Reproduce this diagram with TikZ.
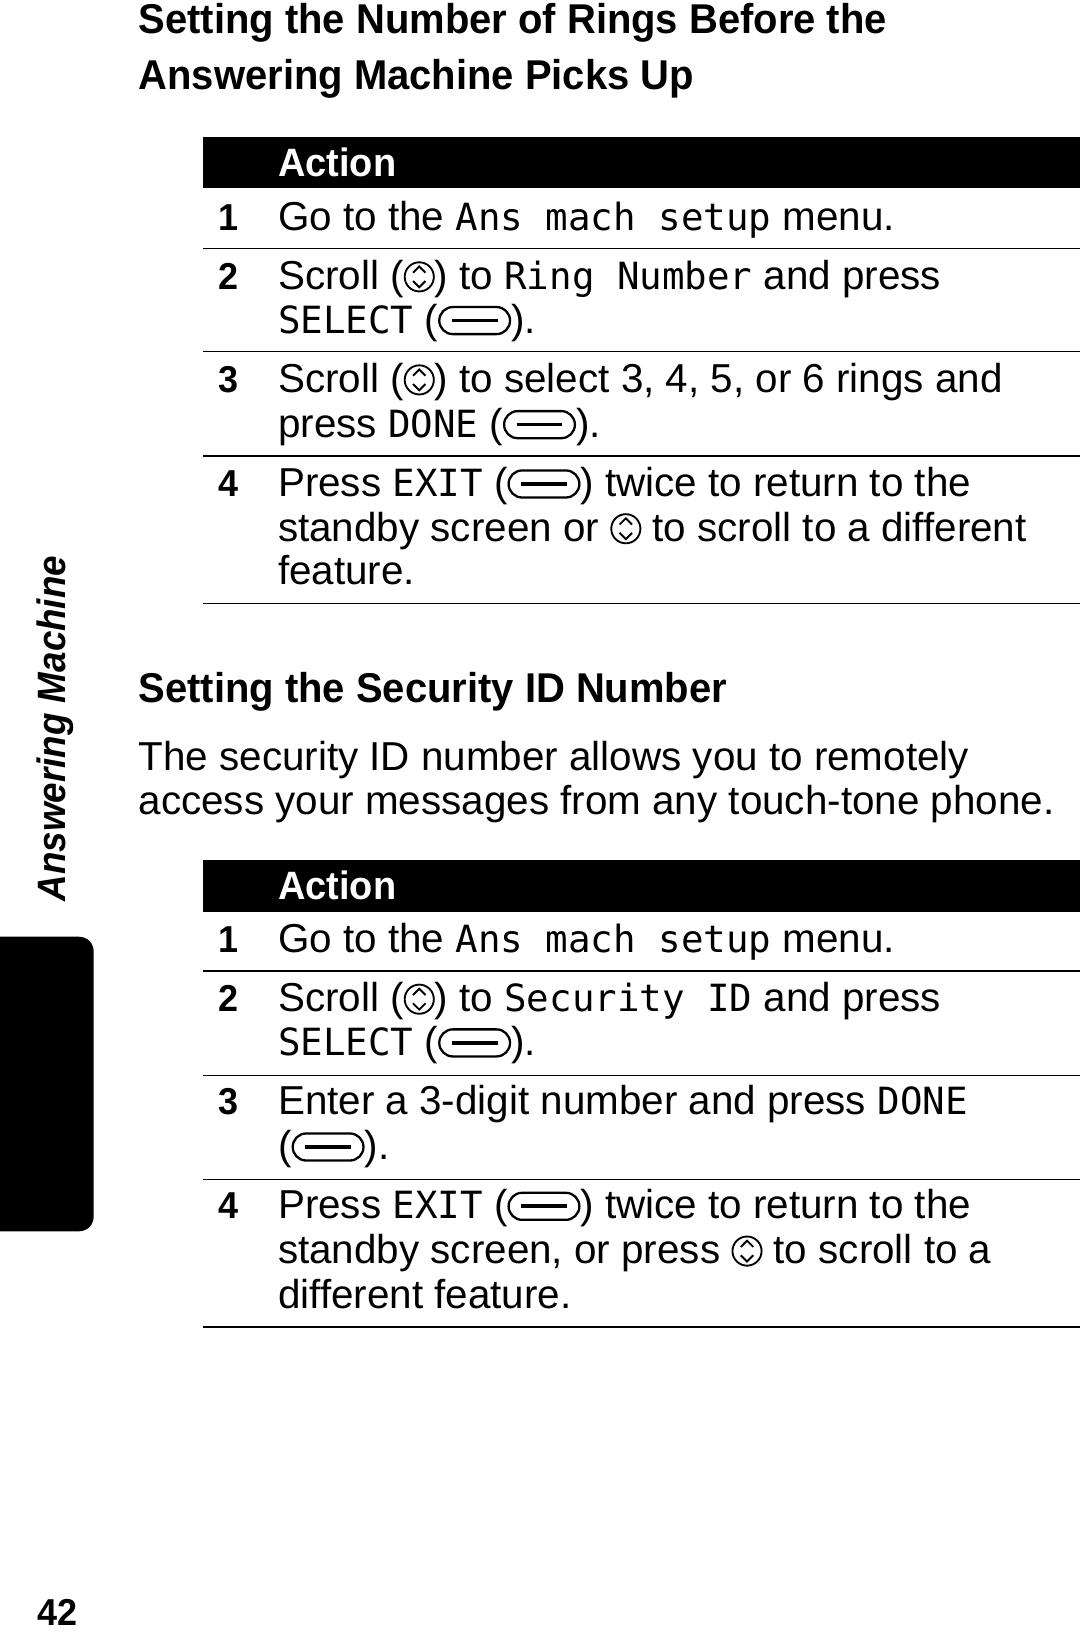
\documentclass[tikz,border=0pt]{standalone}
\usepackage{fontspec}
\setmainfont{Liberation Sans}
\newfontfamily\lcdf{DejaVu Sans Mono}
\newfontfamily\condb[FakeStretch=0.96]{Liberation Sans Bold}
\newfontfamily\condbi[FakeStretch=0.93]{Liberation Sans Bold Italic}
\newcommand{\lcd}[1]{{\lcdf\fontsize{36}{40}\selectfont #1}}
\newcommand{\scr}{\tikz[baseline=-12pt,line width=1.8pt,x=1pt,y=1pt]{\draw (0,0) circle (14);\draw (-6,4)--(0,10)--(6,4);\draw (-6,-4)--(0,-10)--(6,-4);}}
\newcommand{\kbtn}{\tikz[baseline=-12pt,line width=2.2pt,x=1pt,y=1pt]{\draw[rounded corners=13pt] (-34,-13) rectangle (34,13);\draw[line width=3.5pt] (-22,0)--(22,0);}}
\begin{document}
\begin{tikzpicture}[x=1pt,y=-1pt,
  body/.style={anchor=base west,inner sep=0,font=\fontsize{38.8}{43}\selectfont},
  num/.style={anchor=base,inner sep=0,font=\condb\fontsize{36}{40}\selectfont},
  head/.style={anchor=base west,inner sep=0,font=\condb\fontsize{40}{44}\selectfont},
  hdr/.style={anchor=base west,inner sep=0,text=white,font=\condb\fontsize{38}{40}\selectfont},
  rule/.style={line width=1.2pt}]
\useasboundingbox (0,0) rectangle (1038,1568);
% side tab
\fill[rounded corners=14pt] (-20,900) rectangle (90,1183);
\node[rotate=90,anchor=base,inner sep=0,font=\condbi\fontsize{38}{40}\selectfont] (side) at (63,700) {Answering Machine};
\node[anchor=base west,inner sep=0,font=\condb\fontsize{36}{40}\selectfont] (pg) at (36,1562) {42};
% title
\node[head] (t1) at (133,32) {Setting the Number of Rings Before the};
\node[head] (t2) at (133,86) {Answering Machine Picks Up};
% table 1
\fill (195,132) rectangle (1038,181);
\node[hdr] (h1) at (267,170) {Action};
\node[num] (n11) at (220,221) {1};
\node[body] (r11) at (267,221) {Go to the \lcd{Ans mach setup} menu.};
\draw[rule] (195,239)--(1038,239);
\node[num] (n12) at (220,278) {2};
\node[body] (r12a) at (267,278) {Scroll (\scr) to \lcd{Ring Number} and press};
\node[body] (r12b) at (267,320) {\lcd{SELECT} (\kbtn).};
\draw[rule] (195,338)--(1038,338);
\node[num] (n13) at (220,377) {3};
\node[body] (r13a) at (267,377) {Scroll (\scr) to select 3, 4, 5, or 6 rings and};
\node[body] (r13b) at (267,420) {press \lcd{DONE} (\kbtn).};
\draw[rule] (195,438)--(1038,438);
\node[num] (n14) at (220,477) {4};
\node[body] (r14a) at (267,477) {Press \lcd{EXIT} (\kbtn) twice to return to the};
\node[body] (r14b) at (267,520) {standby screen or \scr\ to scroll to a different};
\node[body] (r14c) at (267,562) {feature.};
\draw[rule] (195,580)--(1038,580);
% section 2
\node[head] (t3) at (133,675) {Setting the Security ID Number};
\node[body] (p1) at (133,740) {The security ID number allows you to remotely};
\node[body] (p2) at (133,783) {access your messages from any touch-tone phone.};
% table 2
\fill (195,826) rectangle (1038,876);
\node[hdr] (h2) at (267,864) {Action};
\node[num] (n21) at (220,915) {1};
\node[body] (r21) at (267,915) {Go to the \lcd{Ans mach setup} menu.};
\draw[rule] (195,933)--(1038,933);
\node[num] (n22) at (220,972) {2};
\node[body] (r22a) at (267,972) {Scroll (\scr) to \lcd{Security ID} and press};
\node[body] (r22b) at (267,1014) {\lcd{SELECT} (\kbtn).};
\draw[rule] (195,1033)--(1038,1033);
\node[num] (n23) at (220,1071) {3};
\node[body] (r23a) at (267,1071) {Enter a 3-digit number and press \lcd{DONE}};
\node[body] (r23b) at (267,1114) {(\kbtn).};
\draw[rule] (195,1133)--(1038,1133);
\node[num] (n24) at (220,1171) {4};
\node[body] (r24a) at (267,1171) {Press \lcd{EXIT} (\kbtn) twice to return to the};
\node[body] (r24b) at (267,1214) {standby screen, or press \scr\ to scroll to a};
\node[body] (r24c) at (267,1257) {different feature.};
\draw[rule] (195,1275)--(1038,1275);
\end{tikzpicture}
\end{document}
